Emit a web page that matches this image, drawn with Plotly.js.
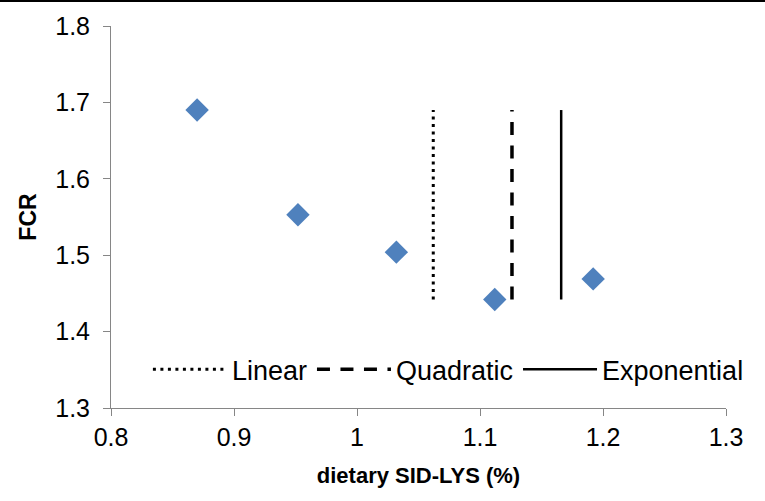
<!DOCTYPE html>
<html>
<head>
<meta charset="utf-8">
<script src="https://cdn.plot.ly/plotly-3.0.1.min.js"></script>
<style>
html,body{margin:0;padding:0;background:#fff;}
#wrap{position:relative;width:765px;height:501px;}
#topline{position:absolute;left:0;top:0;width:765px;height:2px;background:#000;z-index:10;}
#chart{width:765px;height:501px;}
</style>
</head>
<body>
<div id="wrap"><div id="topline"></div><div id="chart"></div></div>
<script>
// Data
const lysLevels = [0.87, 0.952, 1.032, 1.112, 1.192];
const fcrValues = [1.690, 1.553, 1.504, 1.442, 1.469];
const breakpointNames = ["Linear", "Quadratic", "Exponential"];
const breakpointX = [1.062, 1.126, 1.166];
const breakpointYRange = [1.442, 1.690];
const xTicks = [0.8, 0.9, 1.0, 1.1, 1.2, 1.3];
const xTickLabels = ["0.8", "0.9", "1", "1.1", "1.2", "1.3"];
const yTicks = [1.3, 1.4, 1.5, 1.6, 1.7, 1.8];
const yTickLabels = ["1.3", "1.4", "1.5", "1.6", "1.7", "1.8"];

const lineStyles = [
  {dash: "3px,4.5px", width: 3},
  {dash: "13px,10.5px", width: 3.5},
  {dash: "solid", width: 2.5}
];

const traces = [{
  x: lysLevels, y: fcrValues, type: "scatter", mode: "markers",
  marker: {symbol: "diamond", size: 18, color: "#4F81BD"},
  showlegend: false, hoverinfo: "x+y"
}];
breakpointNames.forEach((name, i) => {
  traces.push({
    x: [breakpointX[i], breakpointX[i]], y: breakpointYRange,
    type: "scatter", mode: "lines", name: name,
    line: {color: "#000", dash: lineStyles[i].dash, width: lineStyles[i].width}
  });
});

const font = {family: "Liberation Sans, Arial, sans-serif", color: "#000", size: 24};
const layout = {
  width: 765, height: 501,
  margin: {l: 111, r: 39, t: 26, b: 93},
  paper_bgcolor: "#fff", plot_bgcolor: "#fff",
  font: font,
  showlegend: true,
  legend: {orientation: "h", x: 0.06, xanchor: "left", y: 0.1, yanchor: "middle",
           font: {size: 27, family: font.family, color: "#000"}, bgcolor: "rgba(0,0,0,0)",
           itemwidth: 74, tracegroupgap: 0},
  xaxis: {
    range: [0.8, 1.3], tickmode: "array", tickvals: xTicks, ticktext: xTickLabels,
    showgrid: false, zeroline: false, showline: true, linecolor: "#868686", linewidth: 1,
    ticks: "outside", ticklen: 7, tickcolor: "#868686", tickfont: {size: 25},
    title: {text: "<b>dietary SID-LYS (%)</b>", font: {size: 22}, standoff: 17}, automargin: false
  },
  yaxis: {
    range: [1.3, 1.8], tickmode: "array", tickvals: yTicks, ticktext: yTickLabels,
    showgrid: false, zeroline: false, showline: true, linecolor: "#868686", linewidth: 1,
    ticks: "outside", ticklen: 7, tickcolor: "#868686", tickfont: {size: 25},
    ticklabelstandoff: 8,
    title: {text: "<b>FCR</b>", font: {size: 23}, standoff: 12}, automargin: false
  }
};
Plotly.newPlot("chart", traces, layout, {displayModeBar: false, staticPlot: true});
</script>
</body>
</html>
